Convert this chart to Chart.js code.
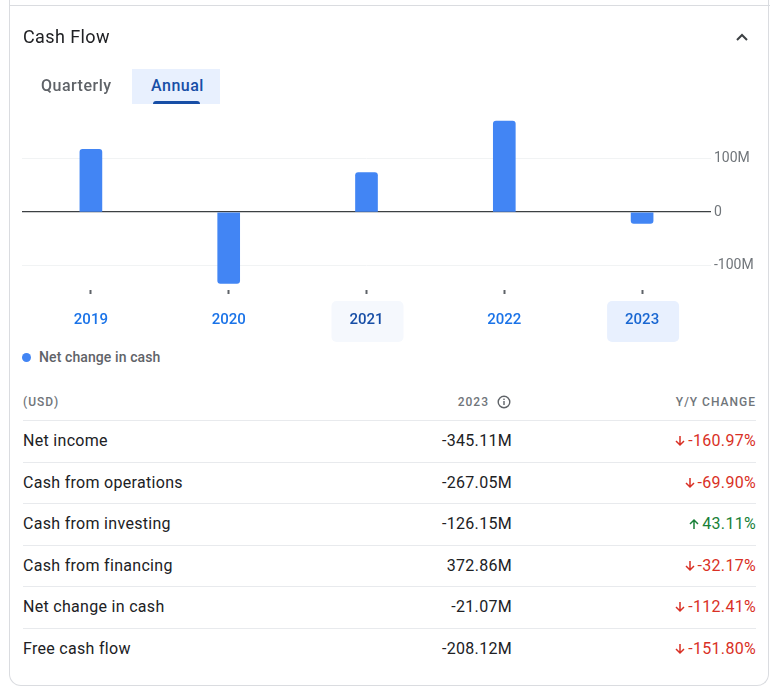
<!DOCTYPE html>
<html lang="en">
<head>
<meta charset="UTF-8">
<title>Cash Flow</title>
<script src="https://cdn.jsdelivr.net/npm/chart.js"></script>
<style>
  html, body { margin: 0; padding: 0; background: #fff; }
  body { width: 780px; height: 690px; position: relative; overflow: hidden; font-family: Roboto, "Noto Sans", sans-serif; color: #202124; }
  .card { position: absolute; left: 9px; top: -10px; width: 760px; height: 696px; border: 1px solid #dadce0; border-top: none; border-radius: 0 0 12px 12px; box-sizing: border-box; }
  .divider { position: absolute; left: 9px; top: 5px; width: 761px; height: 1px; background: #dadce0; }
  .title { position: absolute; left: 23px; top: 26px; font-size: 18px; line-height: 22px; letter-spacing: 0.4px; }
  .chev { position: absolute; left: 734px; top: 30px; }
  .tab { position: absolute; font-size: 16px; font-weight: 500; line-height: 20px; letter-spacing: 0.5px; }
  .tab-q { left: 41px; top: 76px; color: #5f6368; }
  .tab-a-bg { position: absolute; left: 132px; top: 69px; width: 88px; height: 35px; background: #e8f0fe; }
  .tab-a { left: 151px; top: 76px; color: #174ea6; }
  .tab-line { position: absolute; left: 153px; top: 101px; width: 47px; height: 3px; background: #174ea6; border-radius: 3px 3px 0 0; }
  #chartWrap { position: absolute; left: 0; top: 0; width: 780px; height: 345px; }
  .legend { position: absolute; left: 22px; top: 348px; font-size: 14px; line-height: 18px; color: #5f6368; font-weight: 500; letter-spacing: 0.1px; }
  .legend .dot { display: inline-block; width: 9px; height: 9px; border-radius: 50%; background: #4285f4; margin-right: 8px; vertical-align: 0; }
  .hdr { position: absolute; top: 394px; font-size: 12px; line-height: 16px; letter-spacing: 1px; color: #70757a; font-weight: 500; }
  .hdr-usd { left: 23px; }
  .hdr-yr { right: 269px; display: flex; align-items: center; }
  .hdr-yoy { right: 24px; }
  #rows { position: absolute; left: 23px; top: 420px; width: 733px; }
  .row { height: 41.6px; border-top: 1px solid #e8eaed; box-sizing: border-box; position: relative; font-size: 16px; font-weight: 400; letter-spacing: 0.3px; }
  .row span { position: absolute; top: 10px; line-height: 20px; }
  .row .lab { left: 0; }
  .row .val { right: 244px; }
  .row .chg { right: 0; display: flex; align-items: center; }
  .down { color: #d93025; }
  .up { color: #188038; }
</style>
</head>
<body>
<div class="card"></div>
<div class="divider"></div>
<div id="chartWrap"><canvas id="cashChart"></canvas></div>
<div class="title">Cash Flow</div>
<svg class="chev" width="16" height="14" viewBox="0 0 16 14"><polyline points="3,10 8,5 13,10" fill="none" stroke="#3c4043" stroke-width="2"/></svg>
<div class="tab tab-q">Quarterly</div>
<div class="tab-a-bg"></div>
<div class="tab tab-a">Annual</div>
<div class="tab-line"></div>
<div class="legend"><span class="dot"></span>Net change in cash</div>
<div class="hdr hdr-usd">(USD)</div>
<div class="hdr hdr-yr">2023<svg style="margin-left:8px" width="14" height="14" viewBox="0 0 14 14"><circle cx="7" cy="7" r="5.8" fill="none" stroke="#5f6368" stroke-width="1.4"/><rect x="6.3" y="6" width="1.4" height="4" fill="#5f6368"/><rect x="6.3" y="3.6" width="1.4" height="1.4" fill="#5f6368"/></svg></div>
<div class="hdr hdr-yoy">Y/Y CHANGE</div>
<div id="rows"></div>

<script>
// chart data
const years = ['2019', '2020', '2021', '2022', '2023'];
const netChange = [117.8e6, -133.3e6, 74.2e6, 170.7e6, -21.07e6];
const yTicks = [-100e6, 0, 100e6];

// table data
const rowLabels = ['Net income', 'Cash from operations', 'Cash from investing', 'Cash from financing', 'Net change in cash', 'Free cash flow'];
const values2023 = ['-345.11M', '-267.05M', '-126.15M', '372.86M', '-21.07M', '-208.12M'];
const yoyChange = ['-160.97%', '-69.90%', '43.11%', '-32.17%', '-112.41%', '-151.80%'];

// build table rows
const rowsEl = document.getElementById('rows');
rowLabels.forEach((lab, i) => {
    const up = !yoyChange[i].startsWith('-');
    const arrow = up
        ? '<svg width="12" height="12" viewBox="0 0 12 12" style="margin-right:2px"><path d="M6 11V2M2 6l4-4 4 4" fill="none" stroke="currentColor" stroke-width="1.5"/></svg>'
        : '<svg width="12" height="12" viewBox="0 0 12 12" style="margin-right:2px"><path d="M6 1v9M2 6l4 4 4-4" fill="none" stroke="currentColor" stroke-width="1.5"/></svg>';
    const row = document.createElement('div');
    row.className = 'row';
    row.innerHTML = `<span class="lab">${lab}</span><span class="val">${values2023[i]}</span>` +
        `<span class="chg ${up ? 'up' : 'down'}">${arrow}${yoyChange[i]}</span>`;
    rowsEl.appendChild(row);
});

// label backgrounds for 2021 (hover) and 2023 (selected)
const labelBg = {
    id: 'labelBg',
    beforeDraw(chart) {
        const ctx = chart.ctx;
        const x = chart.scales.x;
        const boxes = [[2, '#f5f8fd'], [4, '#e8f0fe']];
        boxes.forEach(([i, col]) => {
            const cx = x.getPixelForValue(i) + 1;
            ctx.save();
            ctx.fillStyle = col;
            ctx.beginPath();
            ctx.roundRect(cx - 36, 301, 72, 41, 5);
            ctx.fill();
            ctx.restore();
        });
    }
};

new Chart(document.getElementById('cashChart'), {
    type: 'bar',
    data: {
        labels: years,
        datasets: [{
            label: 'Net change in cash',
            data: netChange,
            backgroundColor: '#4285f4',
            barThickness: 22,
            borderRadius: 3,
            borderSkipped: 'start'
        }]
    },
    plugins: [labelBg],
    options: {
        responsive: true,
        maintainAspectRatio: false,
        animation: false,
        layout: { padding: { left: 22, top: 116, right: 0, bottom: 0 } },
        plugins: { legend: { display: false }, tooltip: { enabled: false } },
        scales: {
            x: {
                offset: true,
                border: { display: false },
                grid: { offset: false, drawOnChartArea: false, drawTicks: true, tickLength: 4, color: '#5f6368', tickWidth: 2 },
                ticks: {
                    padding: 17,
                    font: { family: 'Roboto', size: 15, weight: '500' },
                    color: ctx => ctx.index === 2 ? '#174ea6' : (ctx.index === 4 ? '#1967d2' : '#1a73e8')
                },
                afterFit(scale) { scale.height = 55; }
            },
            y: {
                position: 'right',
                min: -145.8e6,
                max: 180e6,
                border: { display: false },
                afterBuildTicks(scale) { scale.ticks = yTicks.map(v => ({ value: v })); },
                afterFit(scale) { scale.width = 69; },
                grid: {
                    drawTicks: false,
                    color: ctx => ctx.tick && ctx.tick.value === 0 ? '#3c4043' : '#f1f3f4',
                    lineWidth: ctx => ctx.tick && ctx.tick.value === 0 ? 1.3 : 1
                },
                ticks: {
                    padding: 3,
                    crossAlign: 'near',
                    font: { family: 'Roboto', size: 14 },
                    color: '#70757a',
                    callback: v => v === 0 ? '0' : (v / 1e6) + 'M'
                }
            }
        }
    }
});
</script>
</body>
</html>
